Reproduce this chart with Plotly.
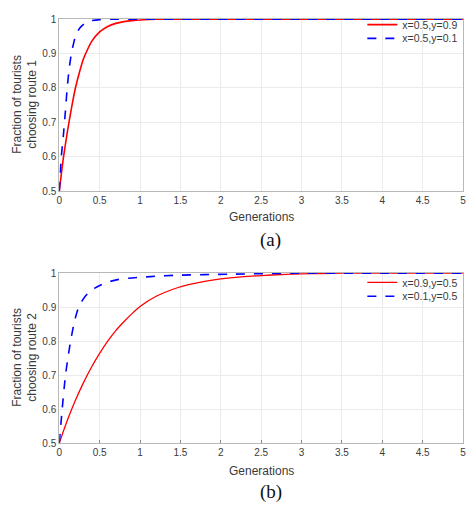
import plotly.graph_objects as go
from plotly.subplots import make_subplots

# ---- Data ----
# Panel (a): route 1
a_red_x = [0, 0.05, 0.1, 0.15, 0.2, 0.25, 0.3, 0.35, 0.4, 0.5, 0.6, 0.7, 0.8, 0.9, 1.0, 1.2, 1.5, 2, 3, 4, 5]
a_red_y = [0.5, 0.595, 0.672, 0.74, 0.8, 0.846, 0.885, 0.912, 0.935, 0.963, 0.979, 0.988, 0.993, 0.996, 0.998, 1.0, 1.0, 1.0, 1.0, 1.0, 1.0]
a_blue_x = [0, 0.025, 0.05, 0.075, 0.1, 0.125, 0.15, 0.2, 0.25, 0.3, 0.35, 0.4, 0.5, 0.6, 1, 2, 3, 4, 5]
a_blue_y = [0.5, 0.6, 0.66, 0.73, 0.805, 0.86, 0.9, 0.95, 0.973, 0.985, 0.992, 0.996, 0.999, 1.0, 1.0, 1.0, 1.0, 1.0, 1.0]
a_names = ["x=0.5,y=0.9", "x=0.5,y=0.1"]

# Panel (b): route 2
b_red_x = [0, 0.1, 0.2, 0.3, 0.4, 0.5, 0.6, 0.7, 0.8, 0.9, 1.0, 1.2, 1.4, 1.6, 1.8, 2.0, 2.25, 2.5, 2.75, 3.0, 3.25, 3.5, 4, 4.5, 5]
b_red_y = [0.5, 0.567, 0.626, 0.678, 0.724, 0.764, 0.8, 0.831, 0.857, 0.881, 0.902, 0.932, 0.952, 0.966, 0.976, 0.983, 0.989, 0.993, 0.996, 0.998, 0.999, 1.0, 1.0, 1.0, 1.0]
b_blue_x = [0, 0.036, 0.077, 0.11, 0.14, 0.19, 0.24, 0.3, 0.36, 0.44, 0.52, 0.62, 0.72, 0.9, 1.13, 1.47, 2.1, 3.0, 4, 5]
b_blue_y = [0.5, 0.6, 0.7, 0.755, 0.8, 0.86, 0.9, 0.925, 0.942, 0.956, 0.966, 0.975, 0.981, 0.986, 0.99, 0.994, 0.997, 1.0, 1.0, 1.0]
b_names = ["x=0.9,y=0.5", "x=0.1,y=0.5"]

x_ticks = [0, 0.5, 1, 1.5, 2, 2.5, 3, 3.5, 4, 4.5, 5]
x_ticktext = ["0", "0.5", "1", "1.5", "2", "2.5", "3", "3.5", "4", "4.5", "5"]
y_ticks = [0.5, 0.6, 0.7, 0.8, 0.9, 1]
y_ticktext = ["0.5", "0.6", "0.7", "0.8", "0.9", "1"]

W, H = 470, 512
FONT = "Liberation Sans, Arial, sans-serif"
TXT = "#3a3a3a"

fig = make_subplots(rows=2, cols=1)

fig.add_trace(go.Scatter(x=a_red_x, y=a_red_y, mode="lines", name=a_names[0],
                         line=dict(color="#ff0000", width=1.6, shape="spline", smoothing=0.6),
                         legend="legend"), row=1, col=1)
fig.add_trace(go.Scatter(x=a_blue_x, y=a_blue_y, mode="lines", name=a_names[1],
                         line=dict(color="#0000ff", width=1.6, dash="dash", shape="spline", smoothing=0.6),
                         legend="legend2"), row=1, col=1)
fig.add_trace(go.Scatter(x=b_red_x, y=b_red_y, mode="lines", name=b_names[0],
                         line=dict(color="#ff0000", width=1.3, shape="spline", smoothing=0.6),
                         legend="legend3"), row=2, col=1)
fig.add_trace(go.Scatter(x=b_blue_x, y=b_blue_y, mode="lines", name=b_names[1],
                         line=dict(color="#0000ff", width=1.6, dash="dash", shape="spline", smoothing=0.6),
                         legend="legend4"), row=2, col=1)

x0, x1 = 57 / W, 466 / W
dom_a = [1 - 190 / H, 1 - 14 / H]
dom_b = [1 - 447 / H, 1 - 273 / H]

common_x = dict(range=[0, 5], tickvals=x_ticks, ticktext=x_ticktext, showgrid=True,
                gridcolor="#ebebeb", gridwidth=1, showline=True, linecolor="#b8b8b8",
                linewidth=1, mirror=True, zeroline=False,
                tickfont=dict(family=FONT, size=10, color=TXT), domain=[x0, x1])
common_y = dict(range=[0.4995, 1.0015], tickvals=y_ticks, ticktext=y_ticktext, showgrid=True,
                gridcolor="#ebebeb", gridwidth=1, showline=True, linecolor="#b8b8b8",
                linewidth=1, mirror=True, zeroline=False,
                tickfont=dict(family=FONT, size=10, color=TXT))

fig.update_xaxes(**common_x, ticks="", row=1, col=1)
fig.update_xaxes(**common_x, ticks="inside", ticklen=3, tickcolor="#888888", row=2, col=1)
fig.update_yaxes(**common_y, domain=dom_a, ticks="", row=1, col=1)
fig.update_yaxes(**common_y, domain=dom_b, ticks="", row=2, col=1)

leg_common = dict(font=dict(family=FONT, size=10.5, color=TXT), bgcolor="rgba(255,255,255,0)",
                  borderwidth=0, xanchor="left", yanchor="middle", itemwidth=30)
LX = 364 / W
fig.update_layout(
    legend=dict(**leg_common, x=LX, y=1 - 20 / H),
    legend2=dict(**leg_common, x=LX, y=1 - 34 / H),
    legend3=dict(**leg_common, x=LX, y=1 - 283 / H),
    legend4=dict(**leg_common, x=LX, y=1 - 297 / H),
)

# white legend backgrounds (hide gridlines behind legend text, keep curves above)
shapes = [
    dict(type="rect", xref="paper", yref="paper", x0=386 / W, x1=465 / W, y0=1 - 46 / H, y1=1 - 17 / H,
         fillcolor="white", line=dict(width=0), layer="between"),
    dict(type="rect", xref="paper", yref="paper", x0=386 / W, x1=465 / W, y0=1 - 304 / H, y1=1 - 276 / H,
         fillcolor="white", line=dict(width=0), layer="between"),
]

annots = []
# y-axis titles
annots.append(dict(text="Fraction of tourists<br>choosing route 1", x=22 / W, y=1 - 101 / H,
                   xref="paper", yref="paper", showarrow=False, textangle=-90,
                   font=dict(family=FONT, size=12, color=TXT), xanchor="center", yanchor="middle"))
annots.append(dict(text="Fraction of tourists<br>choosing route 2", x=22 / W, y=1 - 359 / H,
                   xref="paper", yref="paper", showarrow=False, textangle=-90,
                   font=dict(family=FONT, size=12, color=TXT), xanchor="center", yanchor="middle"))
# x-axis titles
annots.append(dict(text="Generations", x=(x0 + x1) / 2, y=1 - 216 / H, xref="paper", yref="paper",
                   showarrow=False, font=dict(family=FONT, size=12, color=TXT),
                   xanchor="center", yanchor="middle"))
annots.append(dict(text="Generations", x=(x0 + x1) / 2, y=1 - 475 / H, xref="paper", yref="paper",
                   showarrow=False, font=dict(family=FONT, size=12, color=TXT),
                   xanchor="center", yanchor="middle"))
# captions
annots.append(dict(text="(a)", x=271 / W, y=1 - 240 / H, xref="paper", yref="paper",
                   showarrow=False, font=dict(family="Liberation Serif, Times New Roman, serif", size=19, color="#111111"),
                   xanchor="center", yanchor="middle"))
annots.append(dict(text="(b)", x=271 / W, y=1 - 497 / H, xref="paper", yref="paper",
                   showarrow=False, font=dict(family="Liberation Serif, Times New Roman, serif", size=19, color="#111111"),
                   xanchor="center", yanchor="middle"))

fig.update_layout(
    width=W, height=H,
    margin=dict(l=0, r=0, t=0, b=0),
    paper_bgcolor="white", plot_bgcolor="white",
    annotations=annots,
    shapes=shapes,
    showlegend=True,
)

fig.write_html("out.html", config={"displayModeBar": False},
               post_script="document.body.style.margin='0';document.body.style.overflow='hidden';")
